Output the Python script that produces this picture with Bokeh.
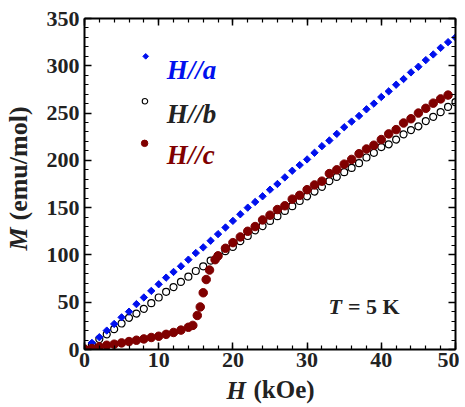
import math
from bokeh.plotting import figure
from bokeh.models import Range1d, LinearAxis, SingleIntervalTicker, Label, Title
from bokeh.embed import file_html
from bokeh.resources import INLINE

# ---------------- data ----------------
H_a = list(range(1, 51))
M_a = [7, 13, 20, 27, 34, 40, 48, 55, 62, 69,
       76, 82, 88, 95, 102, 108, 115, 122, 129, 136,
       143, 150, 156, 162, 169, 175, 182, 189, 195, 201,
       208, 215, 221, 228, 235, 241, 247, 254, 260, 267,
       273, 280, 286, 293, 299, 306, 312, 319, 325, 330]

H_b = list(range(0, 51))
M_b = [0, 5, 11, 16, 21.5, 27.5, 33.5, 38, 43, 49,
       55, 61, 66, 71.5, 77, 83, 88, 94, 99, 104,
       108.5, 114.5, 120, 126, 130.5, 136, 141, 146.5, 151.5, 157,
       162, 167, 172, 178, 182.5, 187.5, 192, 197, 203, 208,
       214, 217, 222, 227.5, 232, 236, 241.5, 246, 251, 256.5, 261.5]

H_c = [0, 1, 2, 3, 4, 5, 6, 7, 8, 9, 10, 11, 12, 13, 14,
       14.6, 15.2, 15.6, 16.0, 16.4, 16.85, 17.6] + list(range(18, 50))
M_c = [0.5, 1, 2.8, 4.5, 5.6, 7, 8.4, 9.8, 11.2, 12.7, 14, 16, 18, 20.5, 23.5,
       25.5, 36, 45, 60, 74, 84, 95,
       99, 107, 113, 119, 125, 130, 137, 142, 148, 152,
       159, 163, 169, 174, 178, 186, 190, 196, 201, 207,
       212, 216, 222, 228, 232.5, 239.5, 244, 250, 255, 260.5, 265, 269]

series_labels = ["H//a", "H//b", "H//c"]

BLUE = "#0010ee"
BROWN = "#800000"
DARK = "#222222"
FONT = "Liberation Serif"

p = figure(frame_width=371, frame_height=331, output_backend="svg",
           toolbar_location=None,
           x_range=Range1d(0, 50), y_range=Range1d(0, 350),
           min_border_left=84, min_border_right=4, min_border_top=18,
           min_border_bottom=54)
p.xgrid.visible = False
p.ygrid.visible = False
p.outline_line_color = None
p.background_fill_color = "white"
p.border_fill_color = "white"


def style_axis(ax, ticker, labels=True):
    ax.ticker = ticker
    ax.axis_line_width = 2
    ax.axis_line_color = "black"
    ax.major_tick_in = 7
    ax.major_tick_out = 0
    ax.minor_tick_in = 4
    ax.minor_tick_out = 0
    ax.major_tick_line_width = 1.5
    ax.minor_tick_line_width = 1.2
    ax.major_tick_line_color = "black"
    ax.minor_tick_line_color = "black"
    ax.axis_label = None
    if labels:
        ax.major_label_text_font = FONT
        ax.major_label_text_font_style = "bold"
        ax.major_label_text_font_size = "22px"
        ax.major_label_text_color = DARK
    else:
        ax.major_label_text_alpha = 0
        ax.major_label_text_font_size = "1px"
        ax.major_label_standoff = 0


def xt():
    return SingleIntervalTicker(interval=10, num_minor_ticks=5)


def yt():
    return SingleIntervalTicker(interval=50, num_minor_ticks=5)


style_axis(p.xaxis[0], xt())
p.xaxis[0].major_label_standoff = 3
style_axis(p.yaxis[0], yt())
p.yaxis[0].major_label_standoff = 5

top = LinearAxis()
style_axis(top, xt(), labels=False)
p.add_layout(top, "above")
right = LinearAxis()
style_axis(right, yt(), labels=False)
p.add_layout(right, "right")

# ---------------- data glyphs ----------------
p.scatter(H_b, M_b, marker="circle", size=7, fill_color=None,
          line_color="black", line_width=1.2)
p.scatter(H_a, M_a, marker="square", angle=math.pi / 4, size=5.2,
          fill_color=BLUE, line_color=BLUE, line_width=1)
p.scatter(H_c, M_c, marker="circle", size=8.5, fill_color=BROWN,
          line_color=BROWN)

# ---------------- legend (custom) ----------------
p.scatter([8.25], [310], marker="square", angle=math.pi / 4, size=4,
          fill_color=BLUE, line_color=BLUE)
p.scatter([8.15], [262.5], marker="circle", size=5.5, fill_color=None,
          line_color="black", line_width=1.1)
p.scatter([8.1], [218], marker="circle", size=6.5, fill_color=BROWN,
          line_color=BROWN)

for txt, yy, col in zip(series_labels, [296, 249.5, 205.5], [BLUE, DARK, BROWN]):
    p.add_layout(Label(x=11.1, y=yy, text=txt, text_font=FONT,
                       text_font_style="bold italic", text_font_size="27px",
                       text_color=col, text_baseline="alphabetic"))

# T = 5 K
p.add_layout(Label(x=32.9, y=45, text="T", text_font=FONT,
                   text_font_style="bold italic", text_font_size="22px",
                   text_color=DARK, text_baseline="alphabetic"))
p.add_layout(Label(x=35.5, y=45, text="= 5 K", text_font=FONT,
                   text_font_style="bold", text_font_size="22px",
                   text_color=DARK, text_baseline="alphabetic"))


# axis titles as side-panel titles (not clipped to the frame)
def title(text, style, size, offset, standoff, valign):
    return Title(text=text, align="left", offset=offset, standoff=standoff,
                 vertical_align=valign, text_font=FONT, text_font_style=style,
                 text_font_size=size, text_color=DARK)


p.add_layout(title("H", "bold italic", "25px", 142, 10, "bottom"), "below")
p.add_layout(title("(kOe)", "bold", "25px", 169, -66, "top"), "below")
p.add_layout(title("M", "bold italic", "26px", 99, -80, "top"), "left")
p.add_layout(title("(emu/mol)", "bold", "26px", 129, -80, "top"), "left")

open("out.html", "w").write(file_html(p, INLINE))
